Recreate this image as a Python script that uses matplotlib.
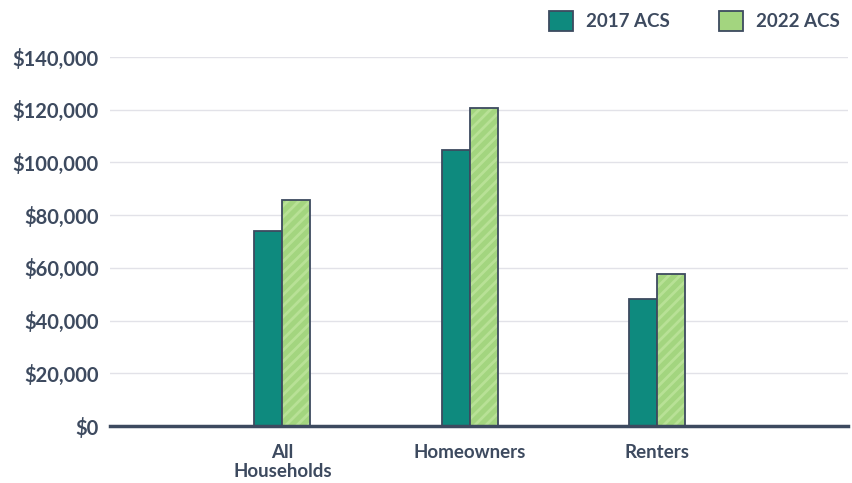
import numpy as np
import matplotlib.pyplot as plt
from matplotlib.patches import Patch

# median household income by tenure
categories = ["All\nHouseholds", "Homeowners", "Renters"]
income_2017 = [74100, 104900, 48300]
income_2022 = [85800, 120600, 57500]
series_names = ["2017 ACS", "2022 ACS"]
yticks = [0, 20000, 40000, 60000, 80000, 100000, 120000, 140000]

dark = "#3d4a5f"
teal = "#0e8a7e"
green = "#a3d57f"
stripe = "#b8e196"

plt.rcParams['font.family'] = ['Lato', 'DejaVu Sans']
plt.rcParams['hatch.linewidth'] = 2.0

fig = plt.figure(figsize=(8.53, 4.83), dpi=100)
ax = fig.add_axes([110/853, 57/483, 738/853, 369/483])

x = np.arange(len(categories))
w = 0.15
ax.bar(x - w/2, income_2017, w, color=teal, edgecolor=dark, linewidth=1.3, zorder=3)
# striped fill first, then the outline on top
ax.bar(x + w/2, income_2022, w, color=green, edgecolor=stripe, hatch="///", linewidth=0, zorder=3)
ax.bar(x + w/2, income_2022, w, fill=False, edgecolor=dark, linewidth=1.3, zorder=4)

ax.set_xlim(-0.92, 3.02)
ax.set_ylim(0, 140000)
ax.set_yticks(yticks)
ax.set_yticklabels([f"${v:,.0f}" for v in yticks])
ax.set_xticks(x)
ax.set_xticklabels(categories)

ax.grid(axis="y", color="#e2e2e8", linewidth=1, zorder=0)
for s in ["top", "right", "left"]:
    ax.spines[s].set_visible(False)
ax.spines["bottom"].set_color(dark)
ax.spines["bottom"].set_linewidth(2.5)
ax.spines["bottom"].set_zorder(5)

ax.tick_params(axis="y", length=0, pad=8, labelsize=14.5, labelcolor=dark)
ax.tick_params(axis="x", length=0, pad=13, labelsize=13.5, labelcolor=dark)
for t in ax.get_xticklabels() + ax.get_yticklabels():
    t.set_fontweight("bold")
for t in ax.get_xticklabels():
    t.set_linespacing(1.15)

handles = [Patch(facecolor=teal, edgecolor=dark, linewidth=1.3),
           Patch(facecolor=green, edgecolor=dark, linewidth=1.3)]
fig.legend(handles, series_names, loc="upper right", bbox_to_anchor=(857/853, 1.013),
           ncol=2, frameon=False, handlelength=1.3, handleheight=1.3,
           columnspacing=2.6, handletextpad=0.7,
           prop={"size": 13.5, "weight": "bold"}, labelcolor=dark)

fig.savefig("out.png", dpi=100)
